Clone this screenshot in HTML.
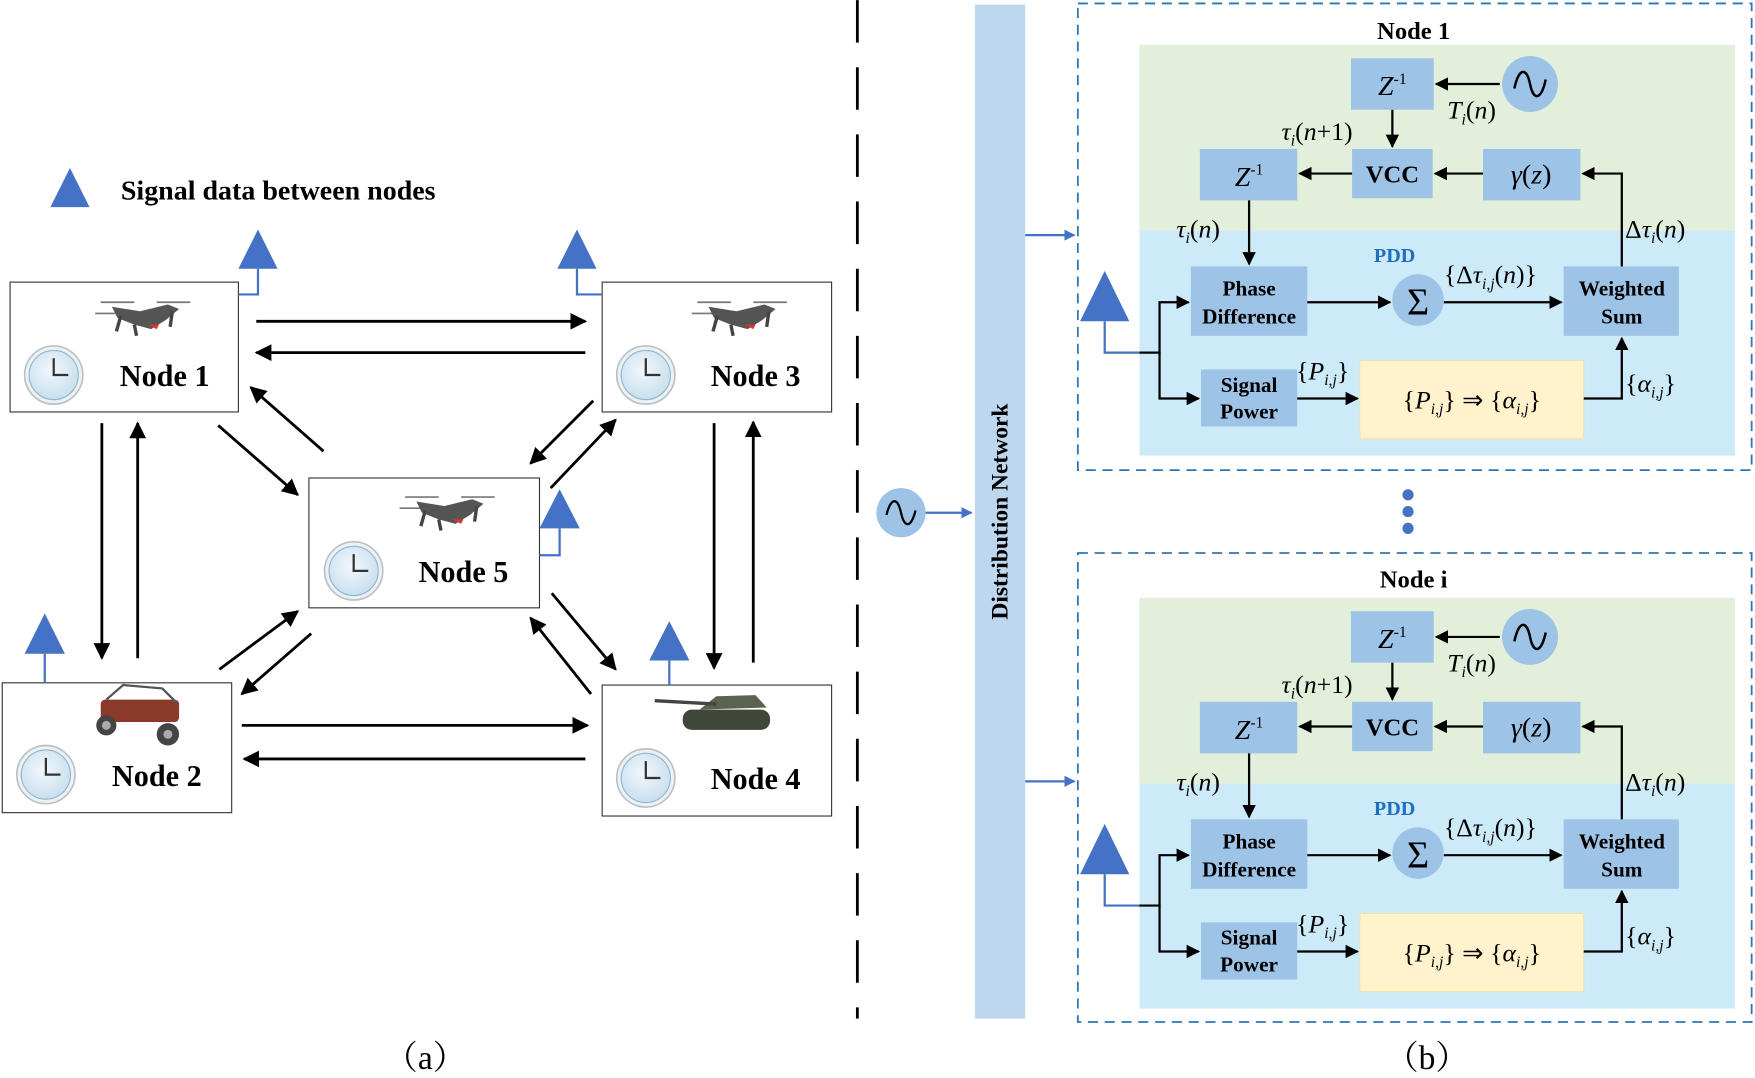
<!DOCTYPE html>
<html><head><meta charset="utf-8"><style>
html,body{margin:0;padding:0;background:#fff;}
svg{display:block;}
text{font-family:"Liberation Serif",serif;}
.b{font-weight:bold;}
.m{font-style:italic;}
</style></head><body>
<svg width="1755" height="1078" viewBox="0 0 1568 963" xmlns="http://www.w3.org/2000/svg">
<defs>
<marker id="ah" viewBox="0 0 10 10" refX="9" refY="5" markerWidth="6" markerHeight="6" orient="auto-start-reverse" markerUnits="strokeWidth"><path d="M0,0 L10,5 L0,10 z" fill="#000"/></marker>
<marker id="ahb" viewBox="0 0 10 10" refX="9" refY="5" markerWidth="5" markerHeight="5" orient="auto" markerUnits="strokeWidth"><path d="M0,0 L10,5 L0,10 z" fill="#4472c4"/></marker>
<radialGradient id="cg" cx="0.45" cy="0.4" r="0.6"><stop offset="0" stop-color="#f2f8fc"/><stop offset="1" stop-color="#c9dfee"/></radialGradient>
<g id="clock"><circle r="26" fill="#eef1f3" stroke="#b8c2c8" stroke-width="1.5"/><circle r="22" fill="url(#cg)" stroke="#8fb6cc" stroke-width="1"/><path d="M0,-15 V0 H13" stroke="#333" stroke-width="2" fill="none"/></g>
<g id="drone"><path d="M-40,-12 H-10 M10,-12 H40 M-45,-2 H-18" stroke="#777" stroke-width="1.5"/><path d="M-30,-8 L-5,-4 L20,-10 L30,-6 L18,4 L5,12 L-10,8 L-25,2 z" fill="#555"/><path d="M2,8 L12,8 L10,12 z" fill="#d33"/><path d="M-22,0 L-26,14 M24,-4 L22,10 M-10,8 L-8,18" stroke="#444" stroke-width="3"/></g>
<g id="blk">
<rect x="1018" y="40" width="532" height="166" fill="#e2efda"/>
<rect x="1018" y="206" width="532" height="201" fill="#cdeaf9"/>
<g fill="#9dc3e6">
<rect x="1207" y="52" width="74" height="46"/>
<rect x="1072" y="133" width="87" height="46"/>
<rect x="1208" y="133" width="72" height="44"/>
<rect x="1325" y="133" width="87" height="46"/>
<rect x="1064" y="238" width="104" height="62"/>
<rect x="1397" y="238" width="103" height="62"/>
<rect x="1073" y="330" width="86" height="51"/>
<circle cx="1367" cy="75" r="25"/>
<circle cx="1267" cy="268" r="23"/>
</g>
<rect x="1215" y="322" width="200" height="70" fill="#fff2cc" stroke="#f3e0a8" stroke-width="1"/>
<path d="M1353,79 C1357,60 1364,60 1367,75 C1370,90 1377,90 1381,71" stroke="#000" stroke-width="2.2" fill="none"/>
<g font-size="25" text-anchor="middle">
<text x="1244" y="85" class="m">Z<tspan font-size="14" dy="-10" font-style="normal">-1</tspan></text>
<text x="1116" y="166" class="m">Z<tspan font-size="14" dy="-10" font-style="normal">-1</tspan></text>
<text x="1244" y="163" class="b" font-size="22">VCC</text>
<text x="1368" y="164"><tspan class="m">γ</tspan>(<tspan class="m">z</tspan>)</text>
<text x="1267" y="281" font-size="34">Σ</text>
</g>
<g class="b" font-size="19" text-anchor="middle">
<text x="1116" y="264">Phase</text><text x="1116" y="289">Difference</text>
<text x="1449" y="264">Weighted</text><text x="1449" y="289">Sum</text>
<text x="1116" y="350">Signal</text><text x="1116" y="374">Power</text>
</g>
<text x="1246" y="234" class="b" font-size="18" fill="#1f6fc0" text-anchor="middle">PDD</text>
<g font-size="23">
<text x="1293" y="106"><tspan class="m">T</tspan><tspan font-size="14" dy="5" class="m">i</tspan><tspan dy="-5">(</tspan><tspan class="m">n</tspan>)</text>
<text x="1145" y="125"><tspan class="m">τ</tspan><tspan font-size="14" dy="5" class="m">i</tspan><tspan dy="-5">(</tspan><tspan class="m">n</tspan>+1)</text>
<text x="1051" y="212"><tspan class="m">τ</tspan><tspan font-size="14" dy="5" class="m">i</tspan><tspan dy="-5">(</tspan><tspan class="m">n</tspan>)</text>
<text x="1452" y="212">Δ<tspan class="m">τ</tspan><tspan font-size="14" dy="5" class="m">i</tspan><tspan dy="-5">(</tspan><tspan class="m">n</tspan>)</text>
<text x="1290" y="253">{Δ<tspan class="m">τ</tspan><tspan font-size="14" dy="5" class="m">i,j</tspan><tspan dy="-5">(</tspan><tspan class="m">n</tspan>)}</text>
<text x="1158" y="339">{<tspan class="m">P</tspan><tspan font-size="14" dy="5" class="m">i,j</tspan><tspan dy="-5">}</tspan></text>
<text x="1452" y="350">{<tspan class="m">α</tspan><tspan font-size="14" dy="5" class="m">i,j</tspan><tspan dy="-5">}</tspan></text>
<text x="1315" y="365" text-anchor="middle">{<tspan class="m">P</tspan><tspan font-size="14" dy="5" class="m">i,j</tspan><tspan dy="-5">} ⇒ {</tspan><tspan class="m">α</tspan><tspan font-size="14" dy="5" class="m">i,j</tspan><tspan dy="-5">}</tspan></text>
</g>
<g stroke="#000" stroke-width="2" fill="none" marker-end="url(#ah)">
<path d="M1340,75 H1283"/>
<path d="M1244,98 V131"/>
<path d="M1208,155 H1161"/>
<path d="M1325,155 H1282"/>
<path d="M1449,238 V155 H1414"/>
<path d="M1116,179 V236"/>
<path d="M1168,270 H1242"/>
<path d="M1290,270 H1395"/>
<path d="M1159,356 H1213"/>
<path d="M1415,356 H1449 V302"/>
<path d="M1018,315 H1036 V270 H1062"/>
<path d="M1036,315 V356 H1071"/>
</g>
<path d="M965,287 L1009,287 L987,242 z" fill="#4472c4"/>
<path d="M987,287 V315 H1018" stroke="#4472c4" stroke-width="2" fill="none"/>
</g>
</defs>

<!-- LEFT (a) -->
<path d="M45,185 L80,185 L62.5,150 z" fill="#4472c4"/>
<text x="108" y="178" class="b" font-size="25">Signal data between nodes</text>

<g stroke="#333" stroke-width="1" fill="#fff">
<rect x="9" y="252" width="204" height="116"/>
<rect x="538" y="252" width="205" height="116"/>
<rect x="276" y="427" width="206" height="116"/>
<rect x="2" y="610" width="205" height="116"/>
<rect x="538" y="612" width="205" height="117"/>
</g>
<g fill="#4472c4"><path d="M213,240 L248,240 L230.5,205 z"/><path d="M498,240 L533,240 L515.5,205 z"/><path d="M482,472 L518,472 L500,437 z"/><path d="M22,584 L58,584 L40,548 z"/><path d="M580,590 L616,590 L598,555 z"/></g>
<g stroke="#4472c4" stroke-width="2" fill="none"><path d="M230.5,240 V263 H213"/><path d="M515.5,240 V263 H538"/><path d="M500,472 V496 H482"/><path d="M40,584 V610"/><path d="M598,590 V612"/></g>

<use href="#drone" x="130" y="282"/><use href="#drone" x="663" y="282"/><use href="#drone" x="402" y="456"/>
<g><rect x="90" y="625" width="70" height="20" fill="#8b3a2a" rx="4"/><path d="M95,625 L110,612 L145,615 L158,628" stroke="#555" stroke-width="2" fill="none"/><circle cx="95" cy="648" r="9" fill="#444"/><circle cx="150" cy="656" r="10" fill="#444"/><circle cx="95" cy="648" r="4" fill="#aaa"/><circle cx="150" cy="656" r="4" fill="#aaa"/></g>
<g><rect x="610" y="634" width="78" height="18" rx="8" fill="#3f4838"/><path d="M625,634 L640,622 L675,621 L685,632 z" fill="#5a6350"/><path d="M585,626 L640,629" stroke="#444" stroke-width="3"/></g>

<use href="#clock" x="48" y="335"/><use href="#clock" x="577" y="335"/><use href="#clock" x="316" y="510"/><use href="#clock" x="41" y="692"/><use href="#clock" x="577" y="695"/>
<g class="b" font-size="27"><text x="107" y="345">Node 1</text><text x="635" y="345">Node 3</text><text x="374" y="520">Node 5</text><text x="100" y="702">Node 2</text><text x="635" y="705">Node 4</text></g>

<g stroke="#000" stroke-width="2.5" fill="none" marker-end="url(#ah)">
<path d="M229,287 H523"/><path d="M523,315 H229"/>
<path d="M91,378 V588"/><path d="M123,588 V378"/>
<path d="M195,380 L266,442"/><path d="M289,403 L224,346"/>
<path d="M530,358 L474,414"/><path d="M492,436 L550,375"/>
<path d="M638,378 V597"/><path d="M673,592 V377"/>
<path d="M196,598 L266,546"/><path d="M278,566 L216,620"/>
<path d="M216,648 H525"/><path d="M523,678 H218"/>
<path d="M493,530 L550,598"/><path d="M528,620 L474,552"/>
</g>

<path d="M766,0 V910" stroke="#000" stroke-width="2.5" stroke-dasharray="38,22"/>
<text x="380" y="955" font-size="30" text-anchor="middle" style="font-family:'Liberation Serif','Noto Serif CJK SC',serif">（a）</text>
<text x="1275" y="955" font-size="30" text-anchor="middle" style="font-family:'Liberation Serif','Noto Serif CJK SC',serif">（b）</text>

<!-- RIGHT (b) -->
<circle cx="805" cy="458" r="22" fill="#9dc3e6"/>
<path d="M792,460 C796,444 802,444 805,458 C808,472 814,472 818,456" stroke="#000" stroke-width="2" fill="none"/>
<path d="M827,458 H868" stroke="#4472c4" stroke-width="2" marker-end="url(#ahb)"/>
<rect x="871" y="4" width="45" height="906" fill="#bdd7ee"/>
<text transform="translate(900,457) rotate(-90)" text-anchor="middle" class="b" font-size="21">Distribution Network</text>
<path d="M916,210 H960" stroke="#4472c4" stroke-width="2" marker-end="url(#ahb)"/>
<path d="M916,698 H960" stroke="#4472c4" stroke-width="2" marker-end="url(#ahb)"/>
<g fill="#4472c4"><circle cx="1258" cy="442" r="5"/><circle cx="1258" cy="457" r="5"/><circle cx="1258" cy="472" r="5"/></g>

<rect x="963" y="3" width="602" height="417" fill="none" stroke="#2e75b6" stroke-width="1.6" stroke-dasharray="9,6"/>
<text x="1263" y="35" class="b" font-size="22" text-anchor="middle">Node 1</text>
<use href="#blk"/>

<rect x="963" y="494" width="602" height="419" fill="none" stroke="#2e75b6" stroke-width="1.6" stroke-dasharray="9,6"/>
<text x="1263" y="525" class="b" font-size="22" text-anchor="middle">Node i</text>
<use href="#blk" y="494"/>
</svg>
</body></html>
